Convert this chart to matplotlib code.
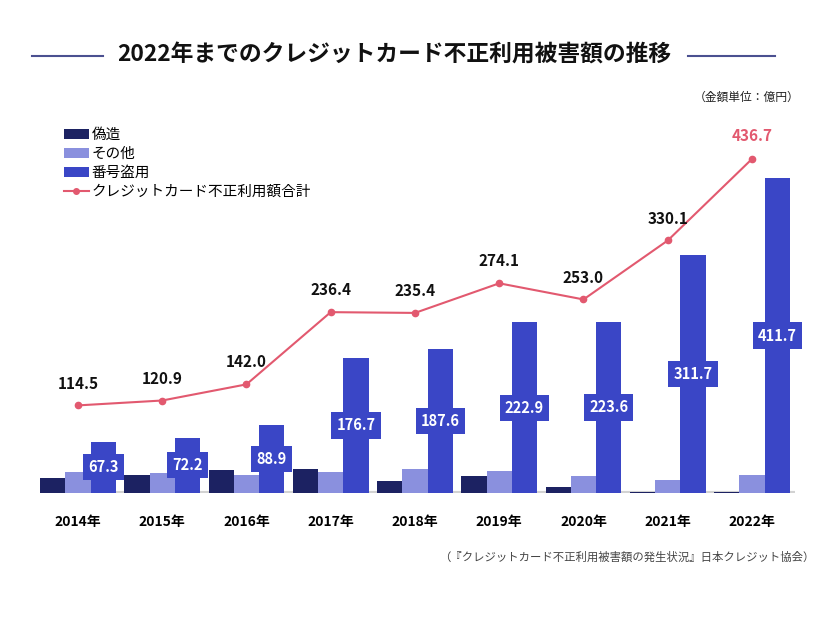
import matplotlib
matplotlib.use("Agg")
import matplotlib.pyplot as plt
import numpy as np
from matplotlib.patches import Patch
from matplotlib.lines import Line2D

plt.rcParams['font.family'] = ['Noto Sans CJK JP', 'DejaVu Sans']

years = ['2014年', '2015年', '2016年', '2017年', '2018年', '2019年', '2020年', '2021年', '2022年']
forgery = [19.5, 23.1, 30.2, 31.7, 16.0, 22.2, 7.3, 1.5, 1.7]
other = [27.7, 25.6, 22.9, 28.0, 31.8, 29.0, 22.1, 16.9, 23.3]
theft = [67.3, 72.2, 88.9, 176.7, 187.6, 222.9, 223.6, 311.7, 411.7]
total = [114.5, 120.9, 142.0, 236.4, 235.4, 274.1, 253.0, 330.1, 436.7]

series_names = ['偽造', 'その他', '番号盗用', 'クレジットカード不正利用額合計']

c_forg = '#1c2262'
c_other = '#8a90de'
c_theft = '#3a46c6'
c_line = '#e2596f'

W, H = 826, 620
fig = plt.figure(figsize=(W / 100, H / 100), dpi=100)
ax = fig.add_axes([40 / W, 1 - 493 / H, 755 / W, 363 / H])

x = np.arange(len(years))
bw = 0.3
ax.bar(x - bw, forgery, bw, color=c_forg, zorder=2)
ax.bar(x, other, bw, color=c_other, zorder=2)
ax.bar(x + bw, theft, bw, color=c_theft, zorder=2)

for xi, v in zip(x, theft):
    ax.text(xi + bw, v / 2, f'{v:.1f}', ha='center', va='center', color='white',
            fontsize=10.5, fontweight='bold', zorder=4,
            bbox=dict(boxstyle='square,pad=0.35', facecolor=c_theft, edgecolor='none'))

ax.plot(x, total, color=c_line, lw=1.5, marker='o', markersize=4.5, zorder=3)
for i, (xi, v) in enumerate(zip(x, total)):
    col = c_line if i == len(total) - 1 else '#111111'
    ax.annotate(f'{v:.1f}', (xi, v), xytext=(0, 10 if i < len(total) - 1 else 11),
                textcoords='offset points', ha='center', va='bottom',
                fontsize=11, fontweight='bold', color=col)

ax.axhline(0, color='#d2d2d2', lw=3, zorder=1)
ax.set_xlim(-0.45, 8.51)
ax.set_ylim(0, 474.5)
ax.set_xticks(x)
ax.set_xticklabels(years, fontsize=10, fontweight='bold')
ax.tick_params(axis='x', length=0, pad=16)
ax.set_yticks([])
for s in ax.spines.values():
    s.set_visible(False)

handles = [Patch(facecolor=c_forg), Patch(facecolor=c_other), Patch(facecolor=c_theft),
           Line2D([0], [0], color=c_line, lw=1.5, marker='o', markersize=4)]
fig.legend(handles, series_names, loc='upper left', bbox_to_anchor=(58 / W, 1 - 122 / H),
           frameon=False, fontsize=10.5, handlelength=1.7, handleheight=0.7,
           handletextpad=0.2, labelspacing=0.35, borderaxespad=0)

# Title with side lines
fig.text(394 / W, 1 - 55 / H, '2022年までのクレジットカード不正利用被害額の推移',
         ha='center', va='center', fontsize=16.4, fontweight='bold', color='#111111')
fig.add_artist(Line2D([32 / W, 103 / W], [1 - 56 / H, 1 - 56 / H], color='#4b5090', lw=1.5))
fig.add_artist(Line2D([688 / W, 775 / W], [1 - 56 / H, 1 - 56 / H], color='#4b5090', lw=1.5))

fig.text(800 / W, 1 - 97 / H, '（金額単位：億円）', ha='right', va='center', fontsize=8.5, color='#222222')
fig.text(814 / W, 1 - 557 / H, '（『クレジットカード不正利用被害額の発生状況』日本クレジット協会）',
         ha='right', va='center', fontsize=8.2, color='#444444')

fig.savefig('out.png', dpi=100, facecolor='white')
